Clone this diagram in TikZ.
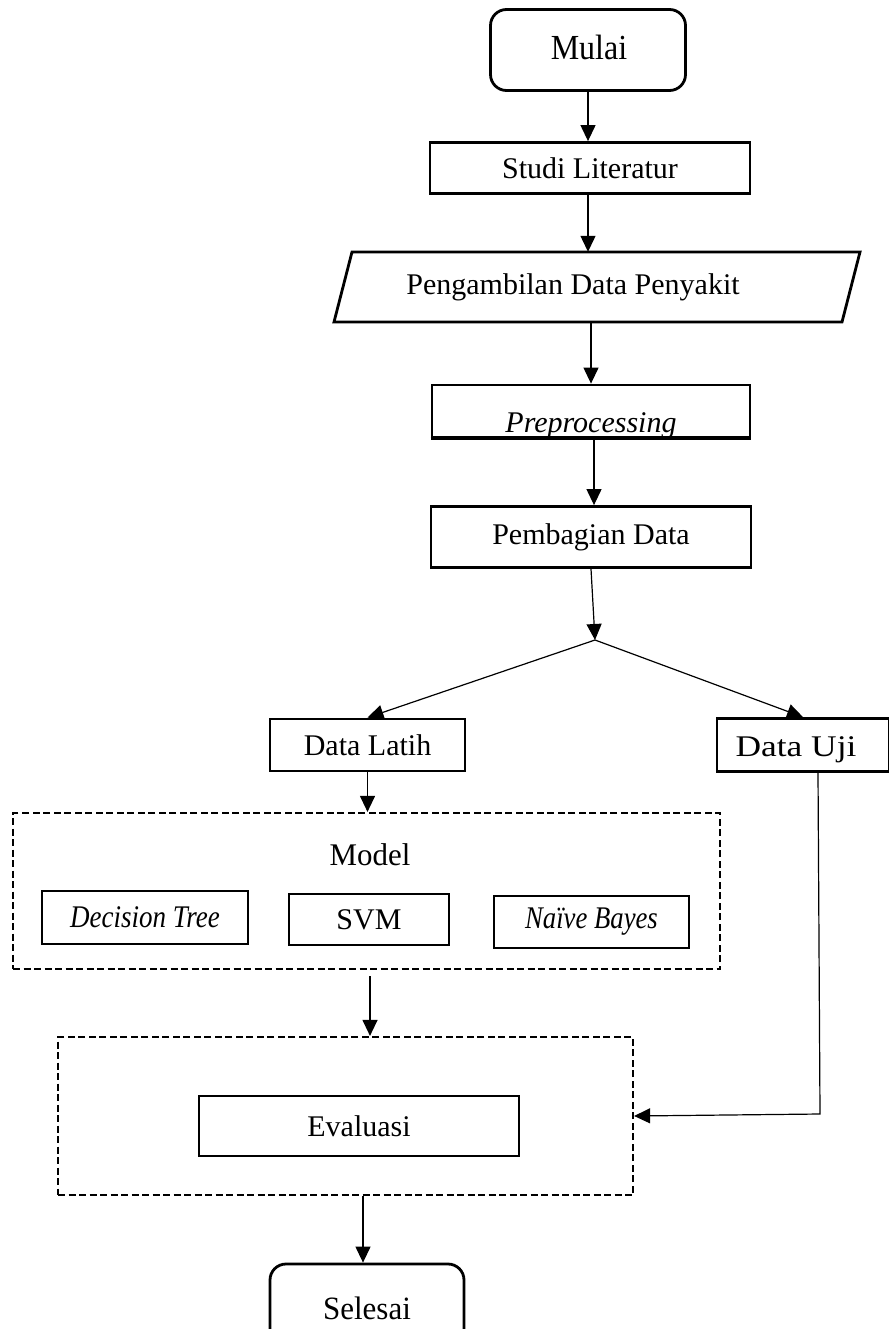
\documentclass[tikz,border=0pt]{standalone}
\usepackage{fontspec}
\setmainfont{Liberation Serif}
\usetikzlibrary{arrows.meta,calc}
\begin{document}
\begin{tikzpicture}[x=1pt,y=-1pt,
  every node/.style={font=\fontsize{30}{36}\selectfont, inner sep=0pt},
  box/.style={draw, line width=2.8pt, rectangle, align=center},
  term/.style={draw, line width=2.8pt, rounded corners=16pt, align=center},
  dbox/.style={draw, line width=2.2pt, dash pattern=on 7pt off 3.5pt},
  arr/.style={line width=1.2pt, -{Triangle[length=16pt,width=15pt]}},
  ln/.style={line width=1.2pt}]
\useasboundingbox (0,0) rectangle (888,1329);

\node[term, minimum width=195pt, minimum height=81pt] (mulai) at (588,50) {};
\node (mulaitxt) at (589,47) {\fontsize{32}{38}\selectfont\scalebox{1}[1.1]{Mulai}};
\node[box, minimum width=320pt, minimum height=51pt] (studi) at (590,168) {Studi Literatur};
\node[minimum width=490pt, minimum height=70pt] (peng) at (597,287) {};
\node (pengtxt) at (573,287) {Pengambilan Data Penyakit};
\draw[line width=2.8pt] (334,322) -- (352,252) -- (860,252) -- (842,322) -- cycle;

\node[box, minimum width=318pt, minimum height=52pt] (prep) at (591,411) {};
\begin{scope}
  \clip (432,385) rectangle (750,435);
  \node[anchor=base] (preptxt) at (591,432) {\itshape Preprocessing};
\end{scope}
\draw[line width=2.8pt] (prep.south west) -- (prep.south east);

\node[box, minimum width=320pt, minimum height=61pt] (pemb) at (591,537) {Pembagian Data};
\coordinate (split) at (595,640);

\node[box, minimum width=195pt, minimum height=52pt] (latih) at (367.5,745) {Data Latih};
\node[box, minimum width=172pt, minimum height=53pt] (uji) at (803,745) {};
\node[text depth=0pt] (ujitxt) at (796,747) {\scalebox{1.18}[1]{Data Uji}};

\node[dbox, minimum width=707pt, minimum height=156pt] (model) at (366.5,891) {};
\node (modeltxt) at (370,855) {\scalebox{1.03}[1.05]{Model}};
\node[box, minimum width=206pt, minimum height=53pt] (dt) at (145,917.5) {\itshape\scalebox{0.9}[1.05]{Decision Tree}};
\node[box, minimum width=160pt, minimum height=51pt] (svm) at (369,919.5) {SVM};
\node[box, minimum width=195pt, minimum height=52pt] (nb) at (591.5,922) {\itshape\scalebox{0.89}[1.05]{Na\"ive Bayes}};

\node[dbox, minimum width=575pt, minimum height=158pt] (evalbox) at (345.5,1116) {};
\node[box, minimum width=320pt, minimum height=60pt] (evaluasi) at (359,1126) {Evaluasi};

\node[term, minimum width=194pt, minimum height=81pt] (selesai) at (367,1304.5) {};
\node (selesaitxt) at (367,1308) {\fontsize{31}{37}\selectfont\scalebox{1}[1.05]{Selesai}};

\draw[arr] (mulai.south) -- (studi.north -| mulai.south);
\draw[arr] (studi.south -| 588,0) -- (peng.north -| 588,0);
\draw[arr] (peng.south -| prep.north) -- (prep.north);
\draw[arr] (prep.south -| 594,0) -- (pemb.north -| 594,0);
\draw[arr] (pemb.south) -- (split);
\draw[arr] (split) -- (latih.north);
\draw[arr] (split) -- (uji.north);
\draw[arr] (latih.south) -- (model.north -| latih.south);
\draw[arr] ($(model.south -| modeltxt)+(0,6)$) -- (evalbox.north -| modeltxt);
\draw[arr] ([xshift=15pt]uji.south) -- ($(evalbox.east -| uji)+(17,-2)$) -- (evalbox.east);
\draw[arr] (evalbox.south -| 363,0) -- (selesai.north -| 363,0);
\end{tikzpicture}
\end{document}
